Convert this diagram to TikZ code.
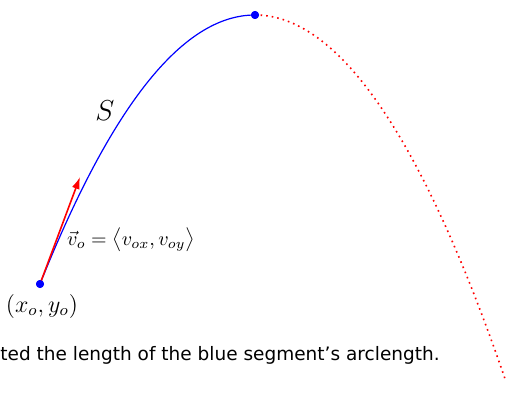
\documentclass[tikz,border=0pt]{standalone}
\usepackage{amsmath,amssymb}
\usepackage{fontspec}
\newfontfamily\capfont{DejaVu Sans}
\usepackage{tikz}
\usetikzlibrary{calc,arrows.meta}

\begin{document}
\begin{tikzpicture}[x=0.5pt, y=-0.5pt,
    pt/.style={circle, fill=blue, inner sep=0pt, minimum size=4pt},
    lbl/.style={font=\large}]
  \useasboundingbox (0,0) rectangle (506,401);

  % Start and top of the path
  \node[pt] (start) at (40,284) {};
  \node[pt] (top) at (255,15) {};

  % Blue part of the trajectory (arclength S)
  \draw[blue, line width=0.6pt] plot[domain=40:255, samples=80, smooth] (\x, {15+((\x-255)*0.07629)^2});

  % Rest of the trajectory
  \draw[red, dotted, line width=0.8pt] plot[domain=255:506, samples=80, smooth] (\x, {15+((\x-255)*0.07629)^2});

  % Initial velocity
  \coordinate (vtip) at (80,177);
  \draw[red, line width=0.8pt, -{Latex[length=6pt, width=4pt]}] (start.center) -- (vtip);

  \node[pt] at (start) {};
  \node[pt] at (top) {};

  % Labels
  \node[lbl] (xy) at (42,306) {$(x_o, y_o)$};
  \node[font=\normalsize] (vel) at (131,240) {$\vec{v}_o = \big\langle v_{ox}, v_{oy}\big\rangle$};
  \node[font=\Large] (arc) at (105,111) {$S$};
  \node[right, font=\capfont\fontsize{9.25pt}{11pt}\selectfont, inner sep=0pt] (cap) at (0,355) {ted the length of the blue segment’s arclength.};
\end{tikzpicture}
\end{document}
